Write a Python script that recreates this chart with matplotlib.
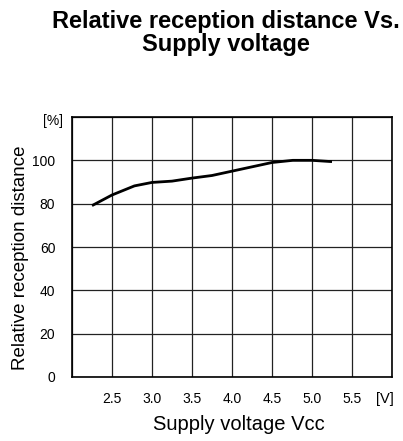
import matplotlib
matplotlib.use("Agg")
import matplotlib.pyplot as plt

plt.rcParams['font.family'] = ['Liberation Sans', 'DejaVu Sans']

voltage = [2.25, 2.5, 2.78, 3.0, 3.25, 3.5, 3.75, 4.0, 4.25, 4.5, 4.76, 5.0, 5.25]
distance = [79.1, 84.0, 88.2, 89.8, 90.4, 91.8, 93.0, 95.0, 97.0, 99.0, 100.0, 100.0, 99.4]
xticks = [2.5, 3.0, 3.5, 4.0, 4.5, 5.0, 5.5]
xticklabels = ['2.5', '3.0', '3.5', '4.0', '4.5', '5.0', '5.5']
yticks = [0, 20, 40, 60, 80, 100]

fig = plt.figure(figsize=(4.03, 4.41), dpi=100)
W, H = 403, 441
ax = fig.add_axes([72 / W, 1 - 377 / H, (392 - 72) / W, (377 - 117) / H])
ax.plot(voltage, distance, color='black', lw=2.0, solid_capstyle='butt')
ax.set_xlim(2.0, 6.0)
ax.set_ylim(0, 120)
ax.set_xticks([2.0] + xticks + [6.0])
ax.set_xticklabels([''] + xticklabels + [''])
ax.set_yticks(yticks + [120])
ax.set_yticklabels([str(v) for v in yticks] + [''])
ax.grid(True, color='#222222', lw=0.9)
ax.tick_params(axis='x', length=0, labelsize=10, pad=11)
ax.tick_params(axis='y', length=0, labelsize=10, pad=12)
for s in ax.spines.values():
    s.set_linewidth(1.2)
    s.set_color('black')
ax.text(-0.028, 0.985, '[%]', transform=ax.transAxes, ha='right', va='center', fontsize=10)
ax.text(5.91, -0.058 * 120, '[V]', ha='center', va='top', fontsize=10.5)
fig.text(21 / W, 1 - 258 / H, 'Relative reception distance', rotation=90, ha='center', va='center', fontsize=13.5)
fig.text(239 / W, 1 - 425 / H, 'Supply voltage Vcc', ha='center', va='center', fontsize=14.5)
fig.text(226 / W, 1 - 33 / H, 'Relative reception distance Vs.\nSupply voltage', ha='center', va='center',
         fontsize=17, fontweight='bold', linespacing=1.0)
fig.savefig('out.png', dpi=100)
